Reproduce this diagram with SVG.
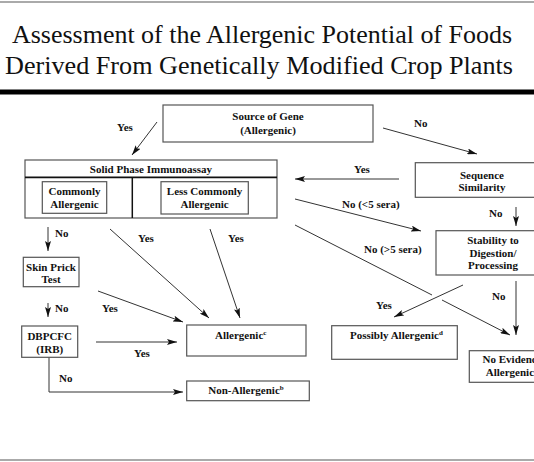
<svg xmlns="http://www.w3.org/2000/svg" width="534" height="462" viewBox="0 0 534 462">
<defs>
<marker id="ah" viewBox="0 0 10 6" refX="10" refY="3" markerWidth="10" markerHeight="6" markerUnits="userSpaceOnUse" orient="auto">
<path d="M0,0 L10,3 L0,6 L2,3 Z" fill="#111"/>
</marker>
<style>
.t{font-family:"Liberation Serif","Times New Roman",serif;font-weight:bold;font-size:11px;fill:#111}
.c{text-anchor:middle}
.title{font-family:"Liberation Serif","Times New Roman",serif;font-size:26px;fill:#111;text-anchor:middle}
.box{fill:#fff;stroke:#555;stroke-width:1.2}
.ln{fill:none;stroke:#333;stroke-width:1}
.ar{fill:none;stroke:#333;stroke-width:1;marker-end:url(#ah)}
.sup{font-size:7px}
</style>
</defs>
<rect width="534" height="462" fill="#fff"/>
<line x1="0" y1="2" x2="534" y2="2" stroke="#aaa" stroke-width="2"/>
<line x1="0" y1="460" x2="534" y2="460" stroke="#aaa" stroke-width="2"/>
<g id="title">
<text class="title" x="262" y="43" textLength="500" lengthAdjust="spacingAndGlyphs">Assessment of the Allergenic Potential of Foods</text>
<text class="title" x="259" y="74" textLength="508" lengthAdjust="spacingAndGlyphs">Derived From Genetically Modified Crop Plants</text>
</g>
<rect x="0" y="89.5" width="534" height="5" fill="#000"/>

<g id="connectors">
<line class="ar" x1="157" y1="122" x2="132" y2="155"/>
<text class="t" x="117" y="131">Yes</text>
<line class="ar" x1="383" y1="128" x2="477" y2="154"/>
<text class="t" x="414" y="127">No</text>
<line class="ar" x1="399" y1="179" x2="295" y2="179"/>
<text class="t" x="354" y="173">Yes</text>
<line class="ar" x1="295" y1="199" x2="421" y2="231"/>
<text class="t" x="342" y="208">No  (&lt;5 sera)</text>
<line class="ar" x1="516" y1="207" x2="516" y2="226"/>
<text class="t" x="489" y="217">No</text>
<line class="ln" x1="295" y1="225" x2="432" y2="295"/>
<line class="ar" x1="442" y1="300" x2="510" y2="335"/>
<text class="t" x="364" y="253">No (&gt;5 sera)</text>
<line class="ar" x1="463" y1="285" x2="394" y2="317"/>
<text class="t" x="376" y="309">Yes</text>
<line class="ar" x1="516" y1="281" x2="516" y2="335"/>
<text class="t" x="492" y="300">No</text>
<line class="ar" x1="48" y1="227" x2="48" y2="251"/>
<text class="t" x="55" y="237">No</text>
<line class="ar" x1="110" y1="229" x2="209" y2="318"/>
<text class="t" x="138" y="242">Yes</text>
<line class="ar" x1="210" y1="229" x2="240" y2="318"/>
<text class="t" x="228" y="242">Yes</text>
<line class="ar" x1="48" y1="303" x2="48" y2="317"/>
<text class="t" x="55" y="312">No</text>
<line class="ar" x1="98" y1="291" x2="183" y2="322"/>
<text class="t" x="102" y="312">Yes</text>
<line class="ar" x1="96" y1="342" x2="177" y2="342"/>
<text class="t" x="134" y="357">Yes</text>
<polyline class="ar" points="49,357 49,392 183,392"/>
<text class="t" x="59" y="382">No</text>
</g>

<g id="source">
<rect class="box" x="163" y="105" width="210" height="37"/>
<text class="t c" x="268" y="120">Source of Gene</text>
<text class="t c" x="268" y="134">(Allergenic)</text>
</g>
<g id="spi">
<rect class="box" x="25" y="160" width="252" height="58"/>
<line x1="25" y1="177.3" x2="277" y2="177.3" stroke="#111" stroke-width="1.8"/>
<line x1="132.3" y1="177.3" x2="132.3" y2="218" stroke="#111" stroke-width="1.5"/>
<text class="t c" x="151" y="173">Solid Phase Immunoassay</text>
</g>
<g id="commonly">
<rect class="box" x="42.3" y="181.7" width="64.4" height="31.6"/>
<text class="t c" x="74.5" y="195">Commonly</text>
<text class="t c" x="74.5" y="208">Allergenic</text>
</g>
<g id="lesscommonly">
<rect class="box" x="161" y="181.7" width="87.3" height="32.3"/>
<text class="t c" x="204.6" y="195">Less Commonly</text>
<text class="t c" x="204.6" y="208">Allergenic</text>
</g>
<g id="sequence">
<rect class="box" x="415.3" y="162.7" width="133" height="34.6"/>
<text class="t c" x="482" y="179">Sequence</text>
<text class="t c" x="482" y="191">Similarity</text>
</g>
<g id="stability">
<rect class="box" x="436" y="230.7" width="114" height="44.3"/>
<text class="t c" x="493" y="244">Stability to</text>
<text class="t c" x="493" y="257">Digestion/</text>
<text class="t c" x="493" y="269">Processing</text>
</g>
<g id="skinprick">
<rect class="box" x="23.3" y="257.3" width="55.7" height="29.4"/>
<text class="t c" x="51" y="271">Skin Prick</text>
<text class="t c" x="51" y="283">Test</text>
</g>
<g id="dbpcfc">
<rect class="box" x="21.7" y="326" width="56" height="31.3"/>
<text class="t c" x="49.7" y="340">DBPCFC</text>
<text class="t c" x="49.7" y="353">(IRB)</text>
</g>
<g id="allergenic">
<rect class="box" x="186.7" y="325" width="119.3" height="31"/>
<text class="t" x="215" y="339">Allergenic<tspan class="sup" dy="-4">c</tspan></text>
</g>
<g id="nonallergenic">
<rect class="box" x="186.7" y="381" width="122.6" height="19.7"/>
<text class="t" x="208.3" y="394">Non-Allergenic<tspan class="sup" dy="-4">b</tspan></text>
</g>
<g id="possibly">
<rect class="box" x="331.7" y="325.7" width="125.6" height="33.6"/>
<text class="t" x="350" y="339">Possibly Allergenic<tspan class="sup" dy="-4">d</tspan></text>
</g>
<g id="noevidence">
<rect class="box" x="469.3" y="350.7" width="100" height="31.6"/>
<text class="t c" x="518" y="363">No Evidence of</text>
<text class="t c" x="516" y="376">Allergenicity</text>
</g>
</svg>
